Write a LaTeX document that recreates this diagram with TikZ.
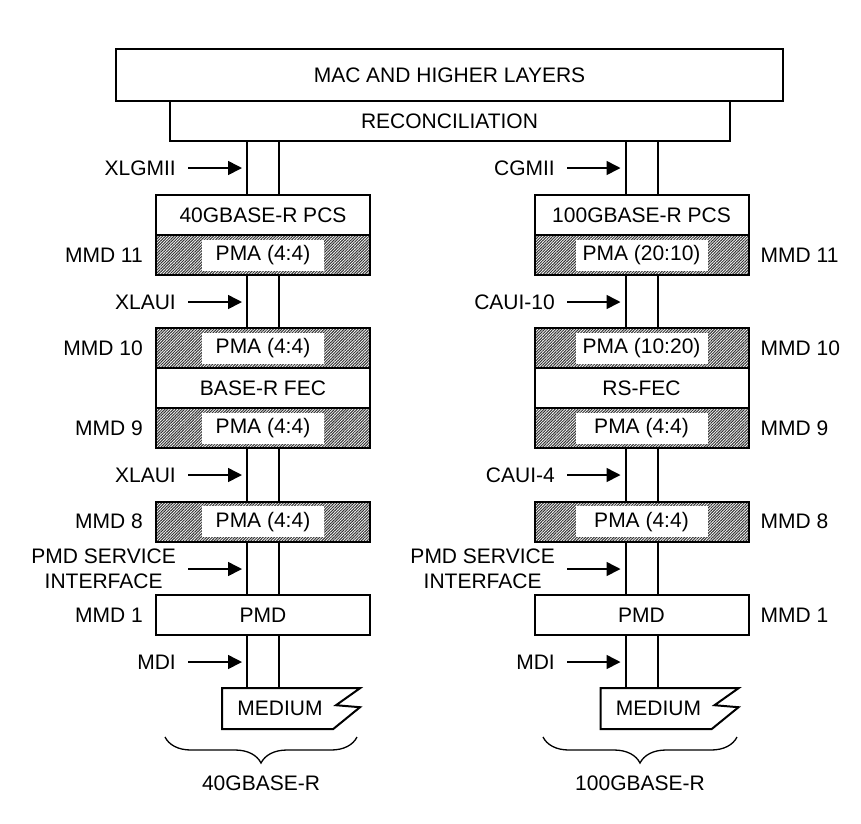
\documentclass[tikz,border=0pt]{standalone}
\usepackage{fontspec}
\setmainfont{Liberation Sans}
\usetikzlibrary{arrows.meta,positioning,patterns.meta,backgrounds,
                decorations.pathreplacing}

\begin{document}
\begin{tikzpicture}[
  x=1pt, y=-1pt,
  font=\fontsize{21}{25}\selectfont,
  layer/.style={draw, rectangle, line width=2pt, fill=white,
                inner sep=0pt, outer sep=0pt, minimum height=40pt},
  sublayer/.style={layer, minimum width=214pt},
  pmalayer/.style={sublayer, preaction={fill=white},
                   pattern={Lines[angle=45, distance=2pt, line width=1pt]},
                   pattern color=black!80},
  pmatext/.style={fill=white, inner sep=0pt, minimum height=31pt},
  lbl/.style={inner sep=0pt, align=center},
  arr/.style={-{Triangle[length=14pt, width=14pt]}, line width=1.6pt},
  link/.style={line width=2pt},
  mediumbox/.style={inner sep=0pt, outer sep=0pt,
                    minimum width=140pt, minimum height=41pt},
  brace/.style={decorate, decoration={brace, mirror, amplitude=26pt},
                line width=1.3pt},
  node distance=53.3pt
]
  \useasboundingbox (0,0) rectangle (861,823);

  %% Common layers
  \node[layer, minimum width=667pt, minimum height=52pt] (mac) at (449.5,75)
    {MAC AND HIGHER LAYERS};
  \node[layer, minimum width=560pt, below=0pt of mac] (recon) {RECONCILIATION};

  %% 40GBASE-R stack
  \node[sublayer] (lpcs) at (263,215) {40GBASE-R PCS};
  \node[pmalayer, below=0pt of lpcs] (lpma11) {};
  \node[pmalayer, below=of lpma11] (lpma10) {};
  \node[sublayer, below=0pt of lpma10] (lfec) {BASE-R FEC};
  \node[pmalayer, below=0pt of lfec] (lpma9) {};
  \node[pmalayer, below=of lpma9] (lpma8) {};
  \node[sublayer, below=of lpma8] (lpmd) {PMD};
  \node[mediumbox, below=of lpmd, xshift=29pt] (lmedium) {};

  \node[pmatext, minimum width=122pt] (lpma11t) at (lpma11) {PMA (4:4)};
  \node[pmatext, minimum width=122pt] (lpma10t) at (lpma10) {PMA (4:4)};
  \node[pmatext, minimum width=122pt] (lpma9t) at (lpma9) {PMA (4:4)};
  \node[pmatext, minimum width=122pt] (lpma8t) at (lpma8) {PMA (4:4)};
  \node[lbl] (lmedt) at ([xshift=-12pt]lmedium.center) {MEDIUM};

  %% 100GBASE-R stack
  \node[sublayer] (rpcs) at (641.5,215) {100GBASE-R PCS};
  \node[pmalayer, below=0pt of rpcs] (rpma11) {};
  \node[pmalayer, below=of rpma11] (rpma10) {};
  \node[sublayer, below=0pt of rpma10] (rfec) {RS-FEC};
  \node[pmalayer, below=0pt of rfec] (rpma9) {};
  \node[pmalayer, below=of rpma9] (rpma8) {};
  \node[sublayer, below=of rpma8] (rpmd) {PMD};
  \node[mediumbox, below=of rpmd, xshift=29pt] (rmedium) {};

  \node[pmatext, minimum width=132pt] (rpma11t) at (rpma11) {PMA (20:10)};
  \node[pmatext, minimum width=132pt] (rpma10t) at (rpma10) {PMA (10:20)};
  \node[pmatext, minimum width=132pt] (rpma9t) at (rpma9) {PMA (4:4)};
  \node[pmatext, minimum width=132pt] (rpma8t) at (rpma8) {PMA (4:4)};
  \node[lbl] (rmedt) at ([xshift=-12pt]rmedium.center) {MEDIUM};

  %% Medium outlines
  \draw[link] (lmedium.north west) -- ++(138,0) -- ++(-24,17) -- ++(24,2)
    -- ++(-27,22) -- (lmedium.south west) -- cycle;
  \draw[link] (rmedium.north west) -- ++(138,0) -- ++(-24,17) -- ++(24,2)
    -- ++(-27,22) -- (rmedium.south west) -- cycle;

  %% Stack links
  \begin{scope}[on background layer]
    \draw[link] ([xshift=-16pt]lpcs.center |- recon.south)
      -- ([xshift=-16pt]lpcs.center |- lmedium.north);
    \draw[link] ([xshift=16pt]lpcs.center |- recon.south)
      -- ([xshift=16pt]lpcs.center |- lmedium.north);
    \draw[link] ([xshift=-16pt]rpcs.center |- recon.south)
      -- ([xshift=-16pt]rpcs.center |- rmedium.north);
    \draw[link] ([xshift=16pt]rpcs.center |- recon.south)
      -- ([xshift=16pt]rpcs.center |- rmedium.north);
  \end{scope}

  %% MMD labels
  \node[lbl, left=13pt of lpma11] (lmmd11) {MMD 11};
  \node[lbl, left=13pt of lpma10] (lmmd10) {MMD 10};
  \node[lbl, left=13pt of lpma9] (lmmd9) {MMD 9};
  \node[lbl, left=13pt of lpma8] (lmmd8) {MMD 8};
  \node[lbl, left=13pt of lpmd] (lmmd1) {MMD 1};
  \node[lbl, right=12pt of rpma11] (rmmd11) {MMD 11};
  \node[lbl, right=12pt of rpma10] (rmmd10) {MMD 10};
  \node[lbl, right=12pt of rpma9] (rmmd9) {MMD 9};
  \node[lbl, right=12pt of rpma8] (rmmd8) {MMD 8};
  \node[lbl, right=12pt of rpmd] (rmmd1) {MMD 1};

  %% Interfaces
  \node[lbl, anchor=east] (xlgmii) at (176,168) {XLGMII};
  \node[lbl, anchor=east] (xlaui1) at (176,302) {XLAUI};
  \node[lbl, anchor=east] (xlaui2) at (176,475) {XLAUI};
  \node[lbl, anchor=east] (lpmdsi) at (176,569) {PMD SERVICE\\INTERFACE};
  \node[lbl, anchor=east] (lmdi) at (176,662) {MDI};
  \node[lbl, anchor=east] (cgmii) at (555,168) {CGMII};
  \node[lbl, anchor=east] (caui10) at (555,302) {CAUI-10};
  \node[lbl, anchor=east] (caui4) at (555,475) {CAUI-4};
  \node[lbl, anchor=east] (rpmdsi) at (555,569) {PMD SERVICE\\INTERFACE};
  \node[lbl, anchor=east] (rmdi) at (555,662) {MDI};

  \draw[arr] ([xshift=12pt]xlgmii.east) -- ([xshift=-21pt]xlgmii.east -| lpcs.center);
  \draw[arr] ([xshift=12pt]xlaui1.east) -- ([xshift=-21pt]xlaui1.east -| lpcs.center);
  \draw[arr] ([xshift=12pt]xlaui2.east) -- ([xshift=-21pt]xlaui2.east -| lpcs.center);
  \draw[arr] ([xshift=12pt]lpmdsi.east) -- ([xshift=-21pt]lpmdsi.east -| lpcs.center);
  \draw[arr] ([xshift=12pt]lmdi.east) -- ([xshift=-21pt]lmdi.east -| lpcs.center);
  \draw[arr] ([xshift=12pt]cgmii.east) -- ([xshift=-21pt]cgmii.east -| rpcs.center);
  \draw[arr] ([xshift=12pt]caui10.east) -- ([xshift=-21pt]caui10.east -| rpcs.center);
  \draw[arr] ([xshift=12pt]caui4.east) -- ([xshift=-21pt]caui4.east -| rpcs.center);
  \draw[arr] ([xshift=12pt]rpmdsi.east) -- ([xshift=-21pt]rpmdsi.east -| rpcs.center);
  \draw[arr] ([xshift=12pt]rmdi.east) -- ([xshift=-21pt]rmdi.east -| rpcs.center);

  %% Braces
  \draw[brace] (165,737) -- (357,737);
  \draw[brace] (543,737) -- (737,737);
  \node[lbl] (l40g) at (261,783) {40GBASE-R};
  \node[lbl] (r100g) at (640,783) {100GBASE-R};

\end{tikzpicture}
\end{document}
